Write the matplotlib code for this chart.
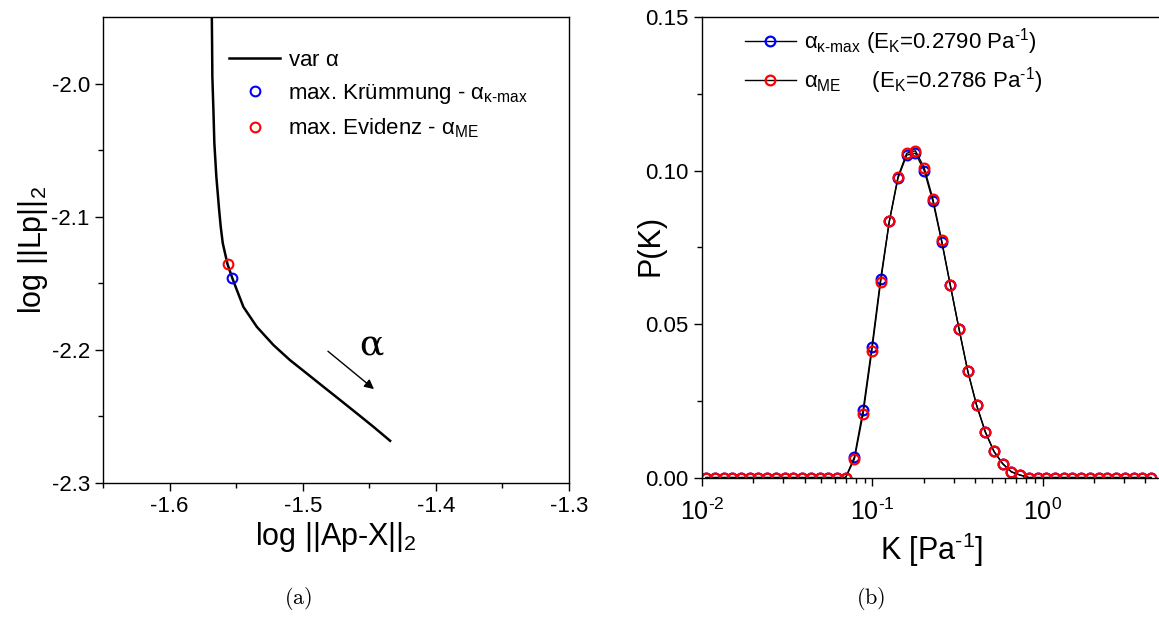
import matplotlib
matplotlib.use('Agg')
import matplotlib.pyplot as plt
import numpy as np

plt.rcParams['font.family'] = ['Liberation Sans', 'DejaVu Sans']
plt.rcParams['mathtext.fontset'] = 'custom'
plt.rcParams['mathtext.rm'] = 'Liberation Sans'
plt.rcParams['mathtext.it'] = 'Liberation Sans'
plt.rcParams['mathtext.bf'] = 'Liberation Sans:bold'
plt.rcParams['axes.unicode_minus'] = False

# (a) L-Kurve
curve_x = [-1.5683, -1.5681, -1.5679, -1.5671, -1.5664, -1.5649, -1.5628, -1.5616,
           -1.5601, -1.5565, -1.5529, -1.5514, -1.5446, -1.5345, -1.5220, -1.5096,
           -1.4970, -1.4845, -1.4719, -1.4594, -1.4469, -1.4344]
curve_y = [-1.9500, -1.9698, -1.9949, -2.0199, -2.0447, -2.0700, -2.0950, -2.1076,
           -2.1198, -2.1357, -2.1461, -2.1501, -2.1677, -2.1827, -2.1964, -2.2077,
           -2.2177, -2.2277, -2.2377, -2.2477, -2.2578, -2.2683]
kmax_pt = (-1.5529, -2.1461)
me_pt = (-1.5565, -2.1357)
arrow_from = (-1.4827, -2.1997)
arrow_to = (-1.4449, -2.2308)
alpha_pos = (-1.4481, -2.1964)

# (b) Verteilung P(K)
K = [0.01057, 0.01189, 0.01338, 0.01505, 0.01693, 0.01905, 0.02144, 0.02412,
     0.02713, 0.03053, 0.03435, 0.03865, 0.04348, 0.04892, 0.05503, 0.06191,
     0.06966, 0.07837, 0.08818, 0.09920, 0.1116, 0.1256, 0.1413, 0.1589,
     0.1788, 0.2012, 0.2263, 0.2547, 0.2865, 0.3224, 0.3627, 0.4080,
     0.4591, 0.5164, 0.5810, 0.6537, 0.7355, 0.8275, 0.9310, 1.047,
     1.178, 1.326, 1.492, 1.678, 1.888, 2.124, 2.390, 2.689,
     3.025, 3.404, 3.830, 4.309]
P_kmax = [0.0] * 17 + [0.0067, 0.0221, 0.0425, 0.0646, 0.0835, 0.0976, 0.1051, 0.1057,
                       0.1000, 0.0900, 0.0769, 0.0626, 0.0483, 0.0346, 0.0237, 0.0150,
                       0.0085, 0.0045, 0.0019, 0.0008] + [0.0] * 15
P_me = [0.0] * 17 + [0.0060, 0.0208, 0.0413, 0.0636, 0.0835, 0.0981, 0.1057, 0.1065,
                     0.1010, 0.0908, 0.0773, 0.0626, 0.0483, 0.0346, 0.0236, 0.0148,
                     0.0085, 0.0045, 0.0018, 0.0008] + [0.0] * 15


def log_fmt(v, pos):
    e = int(round(np.log10(v)))
    s = str(e).replace('-', r'\text{-}')
    return r'10$^{%s}$' % s


fig = plt.figure(figsize=(11.59, 6.23), dpi=100)
ax1 = fig.add_axes([0.0889, 0.2247, 0.4021, 0.7480])
ax2 = fig.add_axes([0.6057, 0.2335, 0.3969, 0.7387])

for ax in (ax1, ax2):
    for s in ax.spines.values():
        s.set_linewidth(1.0)
    ax.tick_params(which='major', direction='out', length=6, width=1, labelsize=16,
                   top=False, right=False)
    ax.tick_params(which='minor', direction='out', length=3.5, width=1,
                   top=False, right=False)

# --- (a)
ax1.plot(curve_x, curve_y, color='k', lw=1.8, label=r'var $\alpha$')
ax1.plot(*kmax_pt, 'o', ms=7, mfc='none', mec='blue', mew=1.5,
         label=r'max. Krümmung - $\alpha_{\kappa\text{-max}}$')
ax1.plot(*me_pt, 'o', ms=7, mfc='none', mec='red', mew=1.5,
         label=r'max. Evidenz - $\alpha_{\mathrm{ME}}$')
ax1.annotate('', xy=arrow_to, xytext=arrow_from,
             arrowprops=dict(arrowstyle='-|>', color='k', lw=1, mutation_scale=14))
ax1.text(*alpha_pos, 'α', fontsize=26, ha='center', va='center', family='DejaVu Serif')
ax1.set_xlim(-1.65, -1.3)
ax1.set_ylim(-2.3, -1.95)
ax1.set_xticks([-1.6, -1.5, -1.4, -1.3])
ax1.set_xticks([-1.65, -1.55, -1.45, -1.35], minor=True)
ax1.set_yticks([-2.3, -2.2, -2.1, -2.0])
ax1.set_yticks([-2.25, -2.15, -2.05], minor=True)
ax1.xaxis.set_major_formatter(plt.FuncFormatter(lambda v, p: '%.1f' % v))
ax1.yaxis.set_major_formatter(plt.FuncFormatter(lambda v, p: '%.1f' % v))
ax1.set_xlabel(r'log ||Ap-X||$_2$', fontsize=22, labelpad=2)
ax1.set_ylabel(r'log ||Lp||$_2$', fontsize=22)
ax1.yaxis.set_label_coords(-0.114, 0.5)
ax1.legend(loc='upper left', bbox_to_anchor=(0.271, 0.93), frameon=False, fontsize=16,
           borderpad=0, borderaxespad=0, handlelength=2.3, handletextpad=0.35,
           labelspacing=0.5, numpoints=1)

# --- (b)
ax2.plot(K, P_kmax, color='k', lw=1, marker='o', ms=7, mfc='none', mec='blue', mew=1.6,
         label=r'$\alpha_{\kappa\text{-max}}$ (E$_K$=0.2790 Pa$^{\text{-}1}$)')
ax2.plot(K, P_me, color='k', lw=1, marker='o', ms=7, mfc='none', mec='red', mew=1.6,
         label=r'$\alpha_{\mathrm{ME}}$     (E$_K$=0.2786 Pa$^{\text{-}1}$)')
ax2.set_xscale('log')
ax2.set_xlim(0.01, 5)
ax2.set_ylim(0, 0.15)
ax2.xaxis.set_major_formatter(plt.FuncFormatter(log_fmt))
ax2.tick_params(axis='x', which='major', pad=9, labelsize=18)
ax2.set_yticks([0.0, 0.05, 0.10, 0.15])
ax2.set_yticks([0.025, 0.075, 0.125], minor=True)
ax2.yaxis.set_major_formatter(plt.FuncFormatter(lambda v, p: '%.2f' % v))
ax2.set_xlabel(r'K [Pa$^{\text{-}1}$]', fontsize=22, labelpad=4)
ax2.set_ylabel('P(K)', fontsize=22)
ax2.yaxis.set_label_coords(-0.08, 0.505)
ax2.legend(loc='upper left', bbox_to_anchor=(0.093, 0.98), frameon=False, fontsize=16,
           borderpad=0, borderaxespad=0, handlelength=2.3, handletextpad=0.35,
           labelspacing=0.35, numpoints=1)

fig.text(0.257, 0.040, r'$\mathrm{(a)}$', fontsize=16, ha='center', va='center',
         math_fontfamily='cm')
fig.text(0.751, 0.040, r'$\mathrm{(b)}$', fontsize=16, ha='center', va='center',
         math_fontfamily='cm')

fig.savefig('out.png', dpi=100)
